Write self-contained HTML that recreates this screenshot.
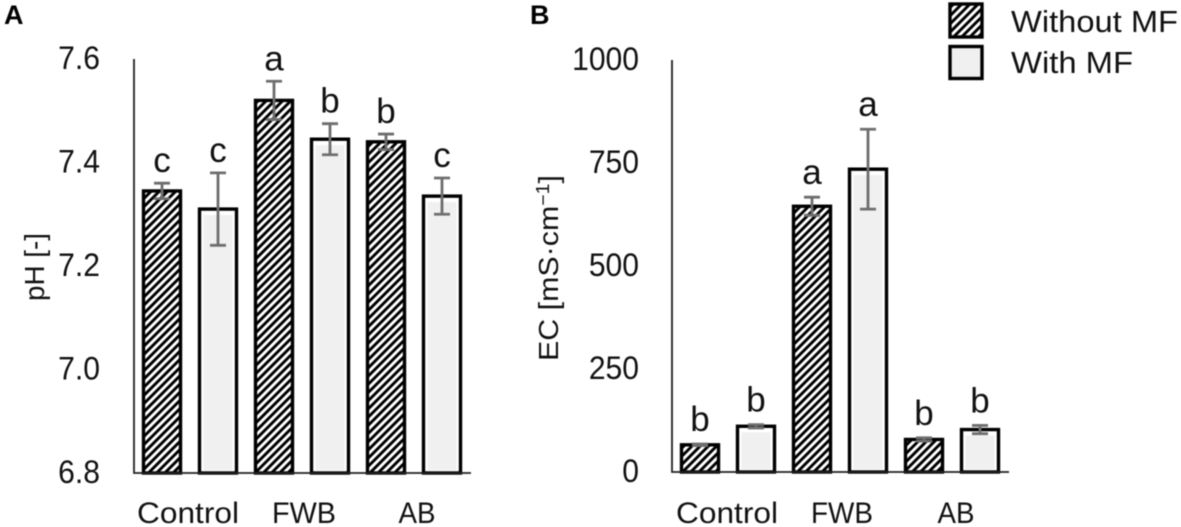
<!DOCTYPE html>
<html lang="en">
<head>
<meta charset="utf-8">
<title>pH and EC bar charts</title>
<style>
html,body{margin:0;padding:0;background:#fff;width:1181px;height:527px;overflow:hidden}
svg{display:block;font-family:"Liberation Sans",sans-serif;fill:#111}
#all{filter:blur(0.5px)}
</style>
</head>
<body>
<svg id="chart" xmlns="http://www.w3.org/2000/svg" width="1181" height="527" viewBox="0 0 1181 527">
<defs>
<pattern id="hatch" patternUnits="userSpaceOnUse" width="5.8" height="5.8" patternTransform="rotate(45)">
<rect width="5.8" height="5.8" fill="#000"/>
<rect x="0" width="2.9" height="5.8" fill="#fff"/>
</pattern>
</defs>
<g id="all">
<text x="4" y="24" font-size="27" font-weight="700" fill="#000">A</text>
<text x="530" y="24" font-size="27" font-weight="700" fill="#000">B</text>
<g>
<rect x="950" y="4" width="32" height="33" fill="url(#hatch)" stroke="#000" stroke-width="3.400"/>
<rect x="950" y="46.500" width="32" height="32" fill="#f0f0f0" stroke="#000" stroke-width="3.400"/>
<text x="1011" y="32" font-size="31" textLength="167" lengthAdjust="spacingAndGlyphs">Without MF</text>
<text x="1011" y="73" font-size="31" textLength="122" lengthAdjust="spacingAndGlyphs">With MF</text>
</g>
<g id="panelA"></g>
<g id="panelB"></g>
</g>
</svg>
<script>
const categories = ["Control", "FWB", "AB"];
const phValues = [7.345, 7.31, 7.52, 7.445, 7.44, 7.335];
const phErrors = [0.015, 0.07, 0.037, 0.03, 0.015, 0.035];
const phLetters = ["c", "c", "a", "b", "b", "c"];
const phTicks = [6.8, 7.0, 7.2, 7.4, 7.6];
const ecValues = [66, 111, 645, 735, 79, 103];
const ecErrors = [2, 4, 22, 97, 4, 10];
const ecLetters = ["b", "b", "a", "a", "b", "b"];
const ecTicks = [0, 250, 500, 750, 1000];

const NS = "http://www.w3.org/2000/svg";
function mk(parent, tag, attrs, text) {
  const el = document.createElementNS(NS, tag);
  for (const k in attrs) el.setAttribute(k, attrs[k]);
  if (text !== undefined) el.textContent = text;
  parent.appendChild(el);
  return el;
}

function drawPanel(o) {
  const g = document.getElementById(o.id);
  const y = v => o.y0 + (v - o.min) / (o.max - o.min) * (o.y1 - o.y0);
  const barX = i => o.x0 + 9 + i * 56 + 0.5;
  const barW = 37;

  o.values.forEach((v, i) => {
    const x = barX(i), top = y(v), hatched = i % 2 === 0;
    const group = mk(g, "g", {});
    
    
    if (hatched) {
      const r = mk(group, "rect", {x: x, y: top, width: barW, height: o.y0 - top, fill: "url(#hatch)", stroke: "#000", "stroke-width": 3.4});
      
      
    } else {
      const r = mk(group, "rect", {x: x, y: top, width: barW, height: o.y0 - top, fill: "#fff", stroke: "#000", "stroke-width": 3.4});
      
      
      const innerTop = Math.min(top + 6, o.y0 - 3);
      const f = mk(group, "rect", {x: x + 4, y: innerTop, width: barW - 8, height: o.y0 - 3 - innerTop, fill: "#f0f0f0"});
      
      
    }
    const cx = x + barW / 2, eTop = y(v + o.errors[i]), eBot = y(v - o.errors[i]);
    const err = mk(group, "path", {
      d: "M" + cx + " " + eTop + "V" + eBot + "M" + (cx - 8) + " " + eTop + "H" + (cx + 8) + "M" + (cx - 8) + " " + eBot + "H" + (cx + 8),
      stroke: "#6e6e6e", "stroke-width": 2.8, fill: "none"
    });
    
    
    const lab = mk(group, "text", {x: cx, y: eTop - o.letterGap, "font-size": 35, "text-anchor": "middle"}, o.letters[i]);
    
    
  });

  const axis = mk(g, "path", {d: "M" + o.x0 + " " + y(o.max) + "V" + o.y0 + "H" + (o.x0 + 337), stroke: "#222", "stroke-width": 1.8, fill: "none"});
  
  

  o.ticks.forEach(t => {
    const s = mk(g, "text", {transform: "translate(" + o.labelX + " " + (y(t) + 10) + ") scale(0.94 1)", "font-size": 32, "text-anchor": "end"}, o.fmt(t));
    
    
  });

  categories.forEach((c, i) => {
    const s = mk(g, "text", {x: o.catX[i], y: 523, "font-size": 30, "text-anchor": "middle", textLength: o.catW[i], lengthAdjust: "spacingAndGlyphs"}, c);
    
    
  });

  const t = mk(g, "text", {transform: "translate(" + o.titleX + " " + o.titleY + ") rotate(-90)", "font-size": 28, "text-anchor": "middle", textLength: o.titleW, lengthAdjust: "spacingAndGlyphs"});
  
  
  t.textContent = o.title;
  if (o.sup) {
    const sp = mk(t, "tspan", {dy: -9, "font-size": 18}, o.sup);
    
    
    const end = mk(t, "tspan", {dy: 9}, "]");
    
    
  }
}

drawPanel({id: "panelA", x0: 134, y0: 473, y1: 59, min: 6.8, max: 7.6,
  values: phValues, errors: phErrors, letters: phLetters, ticks: phTicks, letterGap: 11,
  fmt: t => t.toFixed(1), labelX: 100,
  catX: [188, 304, 417], catW: [102, 64, 37],
  title: "pH [-]", titleX: 44, titleY: 267, titleW: 68});
drawPanel({id: "panelB", x0: 672, y0: 472, y1: 60, min: 0, max: 1000,
  values: ecValues, errors: ecErrors, letters: ecLetters, ticks: ecTicks, letterGap: 13,
  fmt: t => String(t), labelX: 639,
  catX: [727, 842, 956], catW: [102, 62, 37],
  title: "EC [mS·cm", sup: "−1", titleX: 558, titleY: 268, titleW: 186});
</script>
</body>
</html>
